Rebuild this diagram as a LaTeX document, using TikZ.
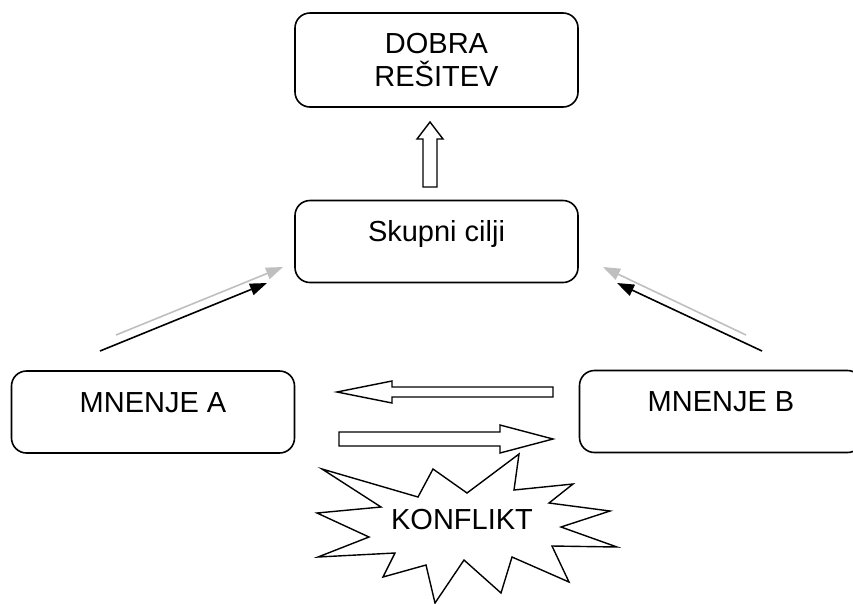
\documentclass[tikz,border=0pt]{standalone}
\usepackage{fontspec}
\setmainfont{Liberation Sans}
\usetikzlibrary{arrows.meta}
\tikzset{plain box/.style={rectangle, draw, rounded corners=15pt, line width=1.6pt,
    minimum width=283pt, minimum height=82pt}}
\tikzset{opinion box/.style={plain box, text height=20pt, text depth=20pt}}
\tikzset{thin arrow/.style={line width=1.6pt, -{Triangle[length=17pt,width=12pt]}}}
\tikzset{ghost arrow/.style={thin arrow, draw=black!25, fill=black!25}}
\tikzset{block arrow/.style={draw, line width=1.4pt, fill=white, line join=miter}}
\tikzset{burst/.style={draw, line width=1.4pt, fill=white, line join=miter}}

\begin{document}
\begin{tikzpicture}
      [x=1pt, y=-1pt, font=\fontsize{29}{33}\selectfont]
      \clip (0,0) rectangle (853,603);

      % the four boxes
      \node [plain box, minimum height=94pt, align=center] (solution) at (436.5, 60)    {DOBRA\\REŠITEV};
      \node [opinion box]                                   (goals)    at (436.5, 241.5) {Skupni cilji};
      \node [opinion box]                                   (opA)      at (153, 412)     {MNENJE A};
      \node [opinion box]                                   (opB)      at (721, 411.5)   {MNENJE B};

      % thin arrows towards the goals
      \coordinate (a tail)  at (100, 351);  \coordinate (a head)  at (267, 283);
      \coordinate (a tail') at (116, 335);  \coordinate (a head') at (283, 267);
      \coordinate (b tail)  at (762, 351);  \coordinate (b head)  at (617, 283);
      \coordinate (b tail') at (746, 335);  \coordinate (b head') at (603, 267);

      \draw [ghost arrow] (a tail') -- (a head');
      \draw [thin arrow]  (a tail)  -- (a head);
      \draw [ghost arrow] (b tail') -- (b head');
      \draw [thin arrow]  (b tail)  -- (b head);

      % block arrows
      \draw [block arrow] (423,187) -- (423,139) -- (417,139) -- (430,122)
                          -- (443,139) -- (437,139) -- (437,187) -- cycle;
      \draw [block arrow] (553,387) -- (392,387) -- (392,381) -- (337,392)
                          -- (392,403) -- (392,397) -- (553,397) -- cycle;
      \draw [block arrow] (339,432) -- (500,432) -- (500,425) -- (553,439)
                          -- (500,453) -- (500,446) -- (339,446) -- cycle;

      % the conflict
      \draw [burst] (322,469) -- (418,497) -- (433,469) -- (467,493) -- (519,454)
                    -- (514,490) -- (573,484) -- (549,503) -- (610,511) -- (561,527)
                    -- (617,547) -- (552,546) -- (569,582) -- (512,557) -- (501,593)
                    -- (464,560) -- (435,603) -- (426,565) -- (383,577) -- (395,553)
                    -- (318,557) -- (369,537) -- (317,513) -- (381,507) -- cycle;
      \node (conflict) at (462, 520) {KONFLIKT};
\end{tikzpicture}
\end{document}
